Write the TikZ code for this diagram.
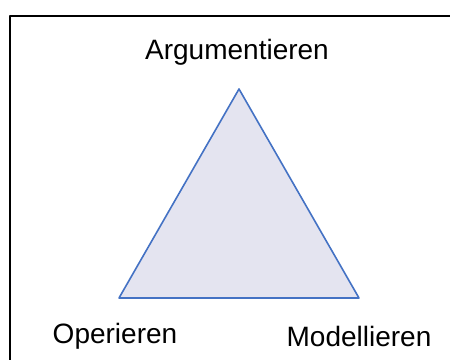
\documentclass[tikz,border=0pt]{standalone}
\usepackage{fontspec}
\setmainfont{Liberation Sans}
\definecolor{edgeblue}{RGB}{68,114,196}
\definecolor{facefill}{RGB}{228,228,240}
\begin{document}
\begin{tikzpicture}[x=1pt,y=-1pt,line cap=round,line join=round]
  \useasboundingbox (0,0) rectangle (450,359);
  \coordinate (A) at (239,89);
  \coordinate (O) at (119,298);
  \coordinate (M) at (359,298);
  \draw[line width=1.6pt] (10,370) -- (10,16) -- (460,16);
  \filldraw[fill=facefill,draw=edgeblue,line width=1.6pt] (A) -- (M) -- (O) -- cycle;
  \node[font=\fontsize{28}{33}\selectfont] (arg) at (237,52) {Argumentieren};
  \node[font=\fontsize{28}{33}\selectfont] (op) at (115,336) {Operieren};
  \node[font=\fontsize{28}{33}\selectfont] (mod) at (359,336) {Modellieren};
\end{tikzpicture}
\end{document}
